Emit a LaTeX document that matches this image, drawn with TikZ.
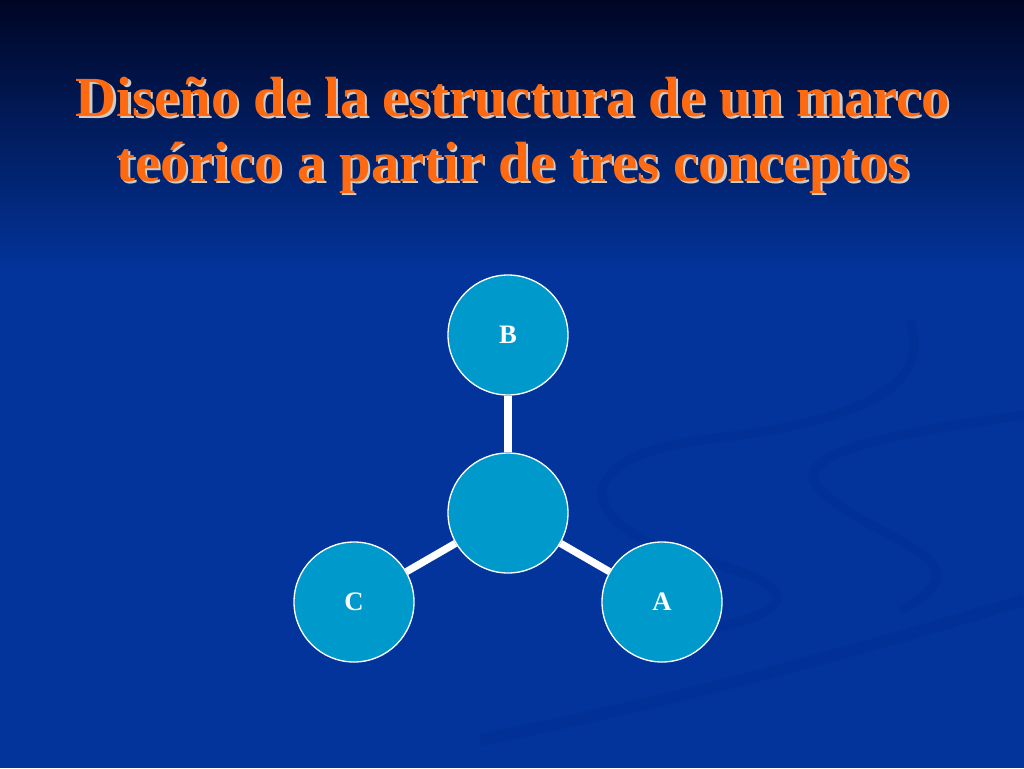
\documentclass[tikz,border=0pt]{standalone}
\usepackage{fontspec}
\setmainfont{Liberation Serif}
\definecolor{bgblue}{HTML}{02349B}
\definecolor{bgtop}{HTML}{000624}
\definecolor{swoosh}{HTML}{002E8E}
\definecolor{titleorange}{HTML}{FF6A10}
\definecolor{titleshadow}{HTML}{CCCCCC}
\definecolor{nodefill}{HTML}{0099CC}
\newcommand\myshadowtext[1]{\makebox[0pt][l]{\kern1.6pt\raisebox{-1.6pt}{\textcolor{titleshadow}{#1}}}#1}
\begin{document}
\begin{tikzpicture}[x=0.75pt,y=-0.75pt,
  concept/.style={circle,draw=white,line width=1pt,fill=nodefill,minimum size=90pt,inner sep=0pt,
    font=\fontsize{20}{24}\selectfont\bfseries,text=white},
  link/.style={draw=white,line width=5.5pt},
  titletext/.style={align=center,font=\fontsize{42.5}{48.75}\selectfont\bfseries}]
\useasboundingbox (0,0) rectangle (1024,768);
% background
\fill[bgblue] (0,0) rectangle (1024,768);
\shade[top color=bgtop,bottom color=bgblue] (0,0) rectangle (1024,270);
% faint swooshes
\begin{scope}[swoosh,line width=7pt,opacity=0.35]
\draw (910,320) .. controls (930,380) and (880,420) .. (700,440) .. controls (560,460) and (580,530) .. (700,560) .. controls (820,590) and (800,620) .. (640,640);
\draw (1024,415) .. controls (920,430) and (780,450) .. (820,490) .. controls (870,540) and (1000,560) .. (900,610);
\draw[line width=9pt] (1024,600) .. controls (860,650) and (680,700) .. (480,740);
\end{scope}
% title
\node[titletext,text=titleorange] (title) at (513,136) {\myshadowtext{Diseño de la estructura de un marco}\\\myshadowtext{teórico a partir de tres conceptos}};
% nodes
\node[concept] (center) at (508,513) {};
\node[concept] (B) at (508,335) {B};
\node[concept] (C) at (354,602) {C};
\node[concept] (A) at (662,602) {A};
% links
\path[link] (center) -- (B);
\path[link] (center) -- (C);
\path[link] (center) -- (A);
\end{tikzpicture}
\end{document}
